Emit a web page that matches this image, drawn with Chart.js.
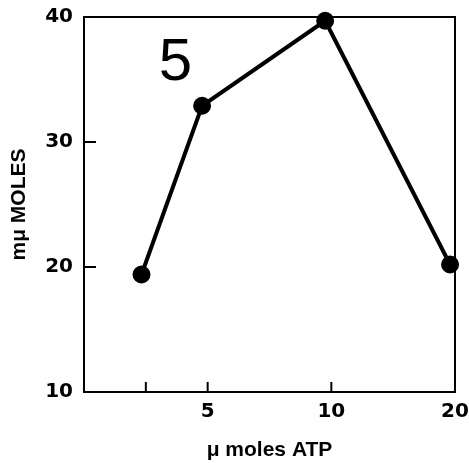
<!DOCTYPE html>
<html>
<head>
<meta charset="utf-8">
<script src="https://cdn.jsdelivr.net/npm/chart.js@4.4.1/dist/chart.umd.min.js"></script>
<style>
  html, body { margin: 0; padding: 0; background: #fff; }
  #wrap { width: 469px; height: 463px; }
</style>
</head>
<body>
<div id="wrap"><canvas id="atpChart" width="469" height="463"></canvas></div>
<script>
// Data (x is given in axis units: ticks sit at 1, 2, 4, 6)
const xTickPos = [1, 2, 4, 6];
const xTickLabels = ['', '5', '10', '20'];
const atpPos = [0.93, 1.91, 3.90, 5.92];
const mMoles = [19.4, 32.9, 39.7, 20.2];
const yTicks = [10, 20, 30, 40];
const panelLabel = '5';

const tickFont = { family: 'DejaVu Sans', size: 20, weight: 'bold' };
const titleFont = { family: 'Liberation Sans', size: 21, weight: 'bold' };

// frame + inward tick marks + the panel number
const framePlugin = {
    id: 'frame',
    beforeDatasetsDraw(chart) {
        const { ctx, chartArea: a, scales } = chart;
        ctx.save();
        ctx.strokeStyle = '#000';
        ctx.lineWidth = 2;
        ctx.strokeRect(a.left, a.top, a.right - a.left, a.bottom - a.top);
        ctx.beginPath();
        xTickPos.forEach(v => {
            const px = scales.x.getPixelForValue(v);
            ctx.moveTo(px, a.bottom);
            ctx.lineTo(px, a.bottom - 10);
        });
        yTicks.forEach(v => {
            const py = scales.y.getPixelForValue(v);
            ctx.moveTo(a.left, py);
            ctx.lineTo(a.left + 12, py);
        });
        ctx.stroke();
        ctx.fillStyle = '#000';
        ctx.font = '60px "Liberation Sans"';
        ctx.textAlign = 'center';
        ctx.textBaseline = 'alphabetic';
        ctx.fillText(panelLabel, scales.x.getPixelForValue(1.48), scales.y.getPixelForValue(34.95));
        ctx.restore();
    }
};

const ctx = document.getElementById('atpChart').getContext('2d');
new Chart(ctx, {
    type: 'scatter',
    data: {
        datasets: [{
            data: atpPos.map((x, i) => ({ x: x, y: mMoles[i] })),
            showLine: true,
            borderColor: '#000',
            backgroundColor: '#000',
            borderWidth: 4,
            pointRadius: 7,
            pointHoverRadius: 7,
            clip: false
        }]
    },
    options: {
        responsive: false,
        animation: false,
        layout: { padding: { left: 0, right: 14, top: 17, bottom: 0 } },
        plugins: { legend: { display: false }, tooltip: { enabled: false } },
        scales: {
            x: {
                type: 'linear',
                min: 0,
                max: 6,
                afterBuildTicks: scale => { scale.ticks = xTickPos.map(v => ({ value: v })); },
                afterFit: scale => {
                    scale.height = 71;
                    scale.paddingLeft = 0;
                    scale.paddingRight = 0;
                },
                grid: { display: false, drawTicks: false },
                border: { display: false },
                ticks: {
                    color: '#000',
                    font: tickFont,
                    padding: 8,
                    maxRotation: 0,
                    autoSkip: false,
                    callback: v => xTickLabels[xTickPos.indexOf(v)]
                },
                title: { display: true, text: 'μ moles ATP', color: '#000', font: titleFont, padding: 0 }
            },
            y: {
                min: 10,
                max: 40,
                afterBuildTicks: scale => { scale.ticks = yTicks.map(v => ({ value: v })); },
                afterFit: scale => {
                    scale.width = 84;
                    scale.paddingTop = 0;
                    scale.paddingBottom = 0;
                },
                grid: { display: false, drawTicks: false },
                border: { display: false },
                ticks: { color: '#000', font: tickFont, padding: 11 },
                title: { display: true, text: 'mμ MOLES', color: '#000', font: titleFont, padding: 7 }
            }
        }
    },
    plugins: [framePlugin]
});
</script>
</body>
</html>
